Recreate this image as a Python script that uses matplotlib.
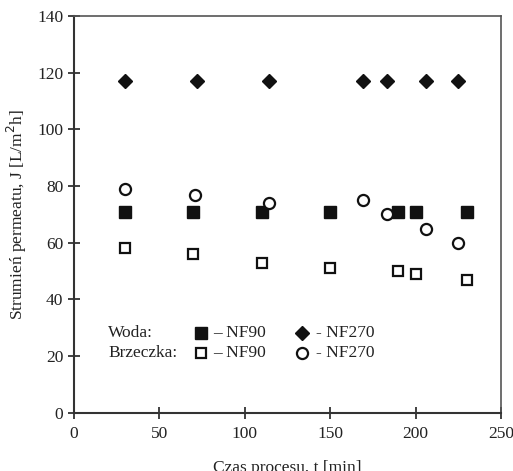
import matplotlib
matplotlib.use("Agg")
import matplotlib.pyplot as plt

# Data
t_woda_nf90 = [30, 70, 110, 150, 190, 200, 230]
j_woda_nf90 = [71, 71, 71, 71, 71, 71, 71]
t_brz_nf90 = [30, 70, 110, 150, 190, 200, 230]
j_brz_nf90 = [58, 56, 53, 51, 50, 49, 47]
t_woda_nf270 = [30, 72, 114, 169, 183, 206, 225]
j_woda_nf270 = [117, 117, 117, 117, 117, 117, 117]
t_brz_nf270 = [30, 71, 114, 169, 183, 206, 225]
j_brz_nf270 = [79, 77, 74, 75, 70, 65, 60]

xticks = [0, 50, 100, 150, 200, 250]
yticks = [0, 20, 40, 60, 80, 100, 120, 140]

plt.rcParams['font.family'] = ['Liberation Serif', 'DejaVu Serif']
txtc = '#222222'

fig = plt.figure(figsize=(5.13, 4.71), dpi=100)
ax = fig.add_axes([0.1439, 0.1238, 0.8327, 0.8422])

ax.plot(t_woda_nf90, j_woda_nf90, linestyle='none', marker='s', ms=8.5,
        mfc='#111111', mec='#111111')
ax.plot(t_brz_nf90, j_brz_nf90, linestyle='none', marker='s', ms=7.5,
        mfc='white', mec='#111111', mew=1.6)
ax.plot(t_woda_nf270, j_woda_nf270, linestyle='none', marker='D', ms=7,
        mfc='#111111', mec='#111111')
ax.plot(t_brz_nf270, j_brz_nf270, linestyle='none', marker='o', ms=8,
        mfc='white', mec='#111111', mew=1.6)

ax.set_xlim(0, 250)
ax.set_ylim(0, 140)
ax.set_xticks(xticks)
ax.set_yticks(yticks)
ax.tick_params(direction='inout', length=9, width=1.3, labelsize=12.5,
               colors='#333333', labelcolor=txtc)
ax.tick_params(axis='x', pad=5)
ax.tick_params(axis='y', pad=3)
for s in ['left', 'bottom']:
    ax.spines[s].set_linewidth(1.5)
    ax.spines[s].set_color('#333333')
for s in ['top', 'right']:
    ax.spines[s].set_linewidth(1.2)
    ax.spines[s].set_color('#555555')

ax.set_xlabel('Czas procesu, t [min]', fontsize=12.5, color=txtc, labelpad=13)
ax.set_ylabel('Strumień permeatu, J [L/m$^2$h]', fontsize=12.5, color=txtc, labelpad=6)

# Legend (custom, drawn as text + markers)
tr = ax.transAxes
ax.text(0.080, 0.2017, 'Woda:', transform=tr, fontsize=12.5, color=txtc, va='center')
ax.text(0.080, 0.151, 'Brzeczka:', transform=tr, fontsize=12.5, color=txtc, va='center')
ax.plot([0.2978], [0.2017], transform=tr, marker='s', ms=8.5, mfc='#111111',
        mec='#111111', linestyle='none', clip_on=False)
ax.plot([0.2978], [0.151], transform=tr, marker='s', ms=7.5, mfc='white',
        mec='#111111', mew=1.6, linestyle='none', clip_on=False)
ax.text(0.326, 0.2017, '– NF90', transform=tr, fontsize=12.5, color=txtc, va='center')
ax.text(0.326, 0.151, '– NF90', transform=tr, fontsize=12.5, color=txtc, va='center')
ax.plot([0.533], [0.2017], transform=tr, marker='D', ms=7, mfc='#111111',
        mec='#111111', linestyle='none', clip_on=False)
ax.plot([0.533], [0.151], transform=tr, marker='o', ms=8, mfc='white',
        mec='#111111', mew=1.6, linestyle='none', clip_on=False)
ax.text(0.567, 0.2017, '- NF270', transform=tr, fontsize=12.5, color=txtc, va='center')
ax.text(0.567, 0.151, '- NF270', transform=tr, fontsize=12.5, color=txtc, va='center')

fig.savefig('out.png', dpi=100)
